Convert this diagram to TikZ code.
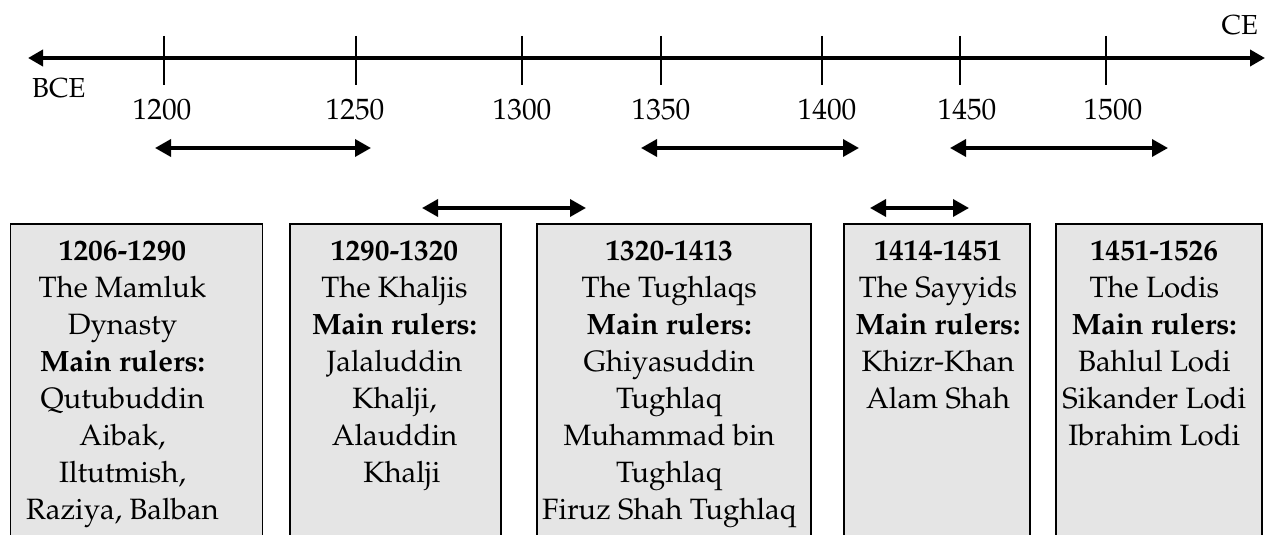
\documentclass[tikz,border=0pt]{standalone}
\usepackage[T1]{fontenc}
\usepackage{mathpazo}
\usetikzlibrary{arrows.meta}

\begin{document}
\begin{tikzpicture}[x=1pt,y=-1pt,
  txt/.style={font=\fontsize{29.4}{37}\selectfont, inner sep=0pt},
  edgelabel/.style={font=\fontsize{27.5}{33}\selectfont, inner sep=0pt},
  axisline/.style={line width=4pt, {Triangle[length=15pt,width=16pt]}-{Triangle[length=15pt,width=16pt]}},
  spanline/.style={line width=3.5pt, {Triangle[length=16pt,width=17pt]}-{Triangle[length=16pt,width=17pt]}},
  tickline/.style={line width=2pt},
  yearlabel/.style={txt, anchor=base},
  panel/.style={draw=black, line width=1.8pt, fill=black!10, anchor=north west, inner sep=0pt},
  paneltext/.style={txt, anchor=north, align=center}
]
\useasboundingbox (0,0) rectangle (1266,535);
\clip (0,0) rectangle (1266,535);

% the time axis
\coordinate (axL) at (28,58);
\coordinate (axR) at (1265,58);
\draw[axisline] (axL) -- (axR);
\node[edgelabel, anchor=base west] (bce) at (32,97) {BCE};
\node[edgelabel, anchor=base east] (ce) at (1258,35) {CE};

% ticks and years
\foreach \tx/\lx/\yr in {164/162/1200, 356/355/1250, 522/522/1300, 661/661/1350, 822/827/1400, 960/967/1450, 1106/1113/1500}{
  \coordinate (tt\yr) at (\tx,36);
  \coordinate (tb\yr) at (\tx,85);
  \draw[tickline] (tt\yr) -- (tb\yr);
  \node[yearlabel] (y\yr) at (\lx,119) {\yr};
}

% spans of the dynasties
\coordinate (s1a) at (155,148); \coordinate (s1b) at (371,148);
\coordinate (s2a) at (422,208); \coordinate (s2b) at (586,208);
\coordinate (s3a) at (641,148); \coordinate (s3b) at (859,148);
\coordinate (s4a) at (870,208); \coordinate (s4b) at (969,208);
\coordinate (s5a) at (950,148); \coordinate (s5b) at (1168,148);
\draw[spanline] (s1a) -- (s1b);
\draw[spanline] (s2a) -- (s2b);
\draw[spanline] (s3a) -- (s3b);
\draw[spanline] (s4a) -- (s4b);
\draw[spanline] (s5a) -- (s5b);

% dynasty panels
\node[panel, minimum width=252pt, minimum height=340pt] (b1) at (9.5,223) {};
\node[panel, minimum width=211pt, minimum height=340pt] (b2) at (289,223) {};
\node[panel, minimum width=274pt, minimum height=340pt] (b3) at (536,223) {};
\node[panel, minimum width=186pt, minimum height=340pt] (b4) at (843,223) {};
\node[panel, minimum width=206pt, minimum height=340pt] (b5) at (1055,223) {};

\node[paneltext] (t1) at (122.5,240.3) {\textbf{1206-1290}\\The Mamluk\\Dynasty\\\textbf{Main rulers:}\\Qutubuddin\\Aibak,\\Iltutmish,\\Raziya, Balban};
\node[paneltext] (t2) at (394.5,240.3) {\textbf{1290-1320}\\The Khaljis\\\textbf{Main rulers:}\\Jalaluddin\\Khalji,\\Alauddin\\\hspace*{0.5em}Khalji};
\node[paneltext] (t3) at (669.2,240.3) {\textbf{1320-1413}\\The Tughlaqs\\\textbf{Main rulers:}\\Ghiyasuddin\\Tughlaq\\Muhammad bin\\Tughlaq\\Firuz Shah Tughlaq};
\node[paneltext] (t4) at (938,240.3) {\textbf{1414-1451}\\The Sayyids\\\textbf{Main rulers:}\\Khizr-Khan\\Alam Shah};
\node[paneltext] (t5) at (1154.3,240.3) {\textbf{1451-1526}\\The Lodis\\\textbf{Main rulers:}\\Bahlul Lodi\\Sikander Lodi\\Ibrahim Lodi};
\end{tikzpicture}
\end{document}
